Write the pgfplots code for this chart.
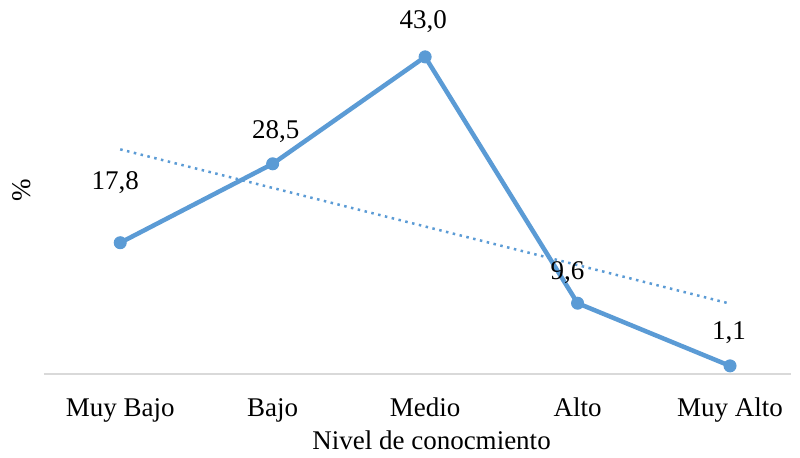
\documentclass[border=0pt]{standalone}
\usepackage{pgfplots}
\pgfplotsset{compat=1.18}
\usepackage{fontspec}
\setmainfont{Liberation Serif}
\definecolor{exblue}{HTML}{5B9BD5}
\definecolor{axgray}{HTML}{D9D9D9}
\begin{document}
\begin{tikzpicture}
\begin{axis}[
  name=ax,
  scale only axis,
  width=747bp, height=354bp,
  xmin=0.5, xmax=5.4,
  ymin=0, ymax=48,
  axis x line*=bottom,
  axis y line*=left,
  y axis line style={draw=none},
  x axis line style={draw=axgray, line width=1.5bp, -},
  xtick={1,2,3,4,5},
  xticklabels={Muy Bajo, Bajo, Medio, Alto, Muy Alto},
  major tick length=0pt,
  ytick=\empty,
  font=\fontsize{27bp}{31bp}\selectfont,
  xticklabel style={font=\fontsize{27bp}{31bp}\selectfont, anchor=base, yshift=-42bp, inner sep=0pt},
  xlabel={Nivel de conocmiento},
  xlabel style={at={(axis description cs:0.5,0)}, anchor=base, yshift=-75bp, xshift=14bp, font=\fontsize{27bp}{31bp}\selectfont, inner sep=0pt},
  ylabel={\%},
  ylabel style={at={(axis description cs:0,0.5)}, anchor=center, xshift=7bp, yshift=22bp, font=\fontsize{27bp}{31bp}\selectfont, inner sep=0pt},
  clip=false,
]
\addplot[exblue, line width=2.5bp, dash pattern=on 2.5bp off 4.5bp] coordinates {(1,30.46) (5,9.54)};
\addplot[exblue, line width=4.5bp, mark=*, mark size=6bp, mark options={fill=exblue, draw=exblue, line width=1bp, solid},
  nodes near coords={\pgfplotspointmeta},
  point meta=explicit symbolic,
  visualization depends on={\thisrow{dx} \as \dx},
  visualization depends on={\thisrow{dy} \as \dy},
  every node near coord/.append style={anchor=center, xshift=\dx bp, yshift=\dy bp, text=black, font=\fontsize{27bp}{31bp}\selectfont, inner sep=0pt},
] table[x=x, y=y, meta=lab] {
x y lab dx dy
1 17.8 {17,8} -5 60
2 28.5 {28,5} 3 32
3 43.0 {43,0} -2 35
4 9.6 {9,6} -10 31
5 1.1 {1,1} -1 33
};
\end{axis}
\pgfresetboundingbox
\path[use as bounding box] ([xshift=-44bp,yshift=-84bp]ax.south west) rectangle ([xshift=9bp,yshift=20bp]ax.north east);
\end{tikzpicture}
\end{document}
